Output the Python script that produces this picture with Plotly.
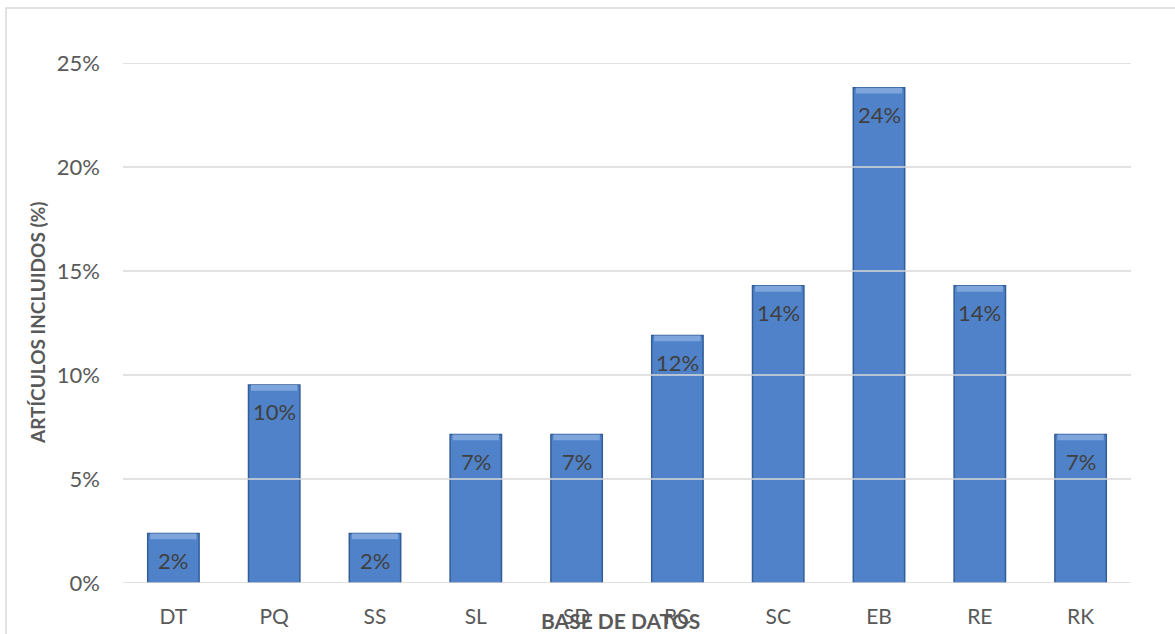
import plotly.graph_objects as go

categories = ["DT", "PQ", "SS", "SL", "SD", "RC", "SC", "EB", "RE", "RK"]
counts = [1, 4, 1, 3, 3, 5, 6, 10, 6, 3]
total = 42
values = [c / total for c in counts]
labels = [f"{v*100:.0f}%" for v in values]
y_ticks = [0, 0.05, 0.10, 0.15, 0.20, 0.25]
y_tick_text = ["0%", "5%", "10%", "15%", "20%", "25%"]

FONT = "Lato, 'Open Sans', sans-serif"
TICK_COLOR = "#595959"

fig = go.Figure()
fig.add_trace(go.Bar(
    x=categories, y=values,
    marker=dict(color="#4f82c8", line=dict(color="#325d97", width=1.5)),
    width=0.51, hoverinfo="skip",
))
# bevel highlight at top of each bar
bevel = [0.0028 for _ in values]
fig.add_trace(go.Bar(
    x=categories, y=bevel, base=[v - b for v, b in zip(values, bevel)],
    marker=dict(color="#7ea6dd", line=dict(width=0)),
    width=0.46, hoverinfo="skip",
))

for c, v, t in zip(categories, values, labels):
    fig.add_annotation(x=c, y=v, text=t, showarrow=False, yanchor="middle",
                       yshift=-27, font=dict(family=FONT, size=22, color="#404040"))

# gridlines drawn above bars
for t in y_ticks[1:]:
    fig.add_shape(type="line", xref="paper", yref="y", x0=0, x1=1, y0=t, y1=t,
                  line=dict(color="#d9d9d9", width=1.5), layer="above")
fig.add_shape(type="line", xref="paper", yref="y", x0=0, x1=1, y0=0, y1=0,
              line=dict(color="#d9d9d9", width=1.5), layer="above")

# outer chart frame
fig.add_shape(type="rect", xref="paper", yref="paper",
              x0=(6 - 123) / 1008, x1=1.3, y0=-0.3, y1=(583 - 8) / 520,
              line=dict(color="#d9d9d9", width=1.5), layer="below")

fig.add_annotation(xref="paper", yref="paper", x=(37 - 123) / 1008, y=0.5,
                   text="<b>ARTÍCULOS INCLUIDOS (%)</b>", textangle=-90, showarrow=False,
                   xanchor="center", yanchor="middle",
                   font=dict(family=FONT, size=19, color=TICK_COLOR))
fig.add_annotation(xref="paper", yref="paper", x=(620 - 123) / 1008, y=(583 - 620) / 520,
                   text="<b>BASE DE DATOS</b>", showarrow=False,
                   xanchor="center", yanchor="middle",
                   font=dict(family=FONT, size=21, color=TICK_COLOR))

fig.update_layout(
    width=1175, height=634,
    margin=dict(l=123, r=44, t=63, b=51, autoexpand=False),
    paper_bgcolor="white", plot_bgcolor="white",
    barmode="overlay", showlegend=False,
    font=dict(family=FONT, size=21, color=TICK_COLOR),
)
fig.update_xaxes(showgrid=False, showline=False, zeroline=False, automargin=False,
                 ticklabelstandoff=19, tickfont=dict(size=21, color=TICK_COLOR))
fig.update_yaxes(range=[0, 0.25], tickvals=y_ticks, ticktext=y_tick_text,
                 showgrid=False, zeroline=False, showline=False, automargin=False,
                 ticklabelstandoff=22, tickfont=dict(size=22, color=TICK_COLOR))

fig.write_html("out.html")
